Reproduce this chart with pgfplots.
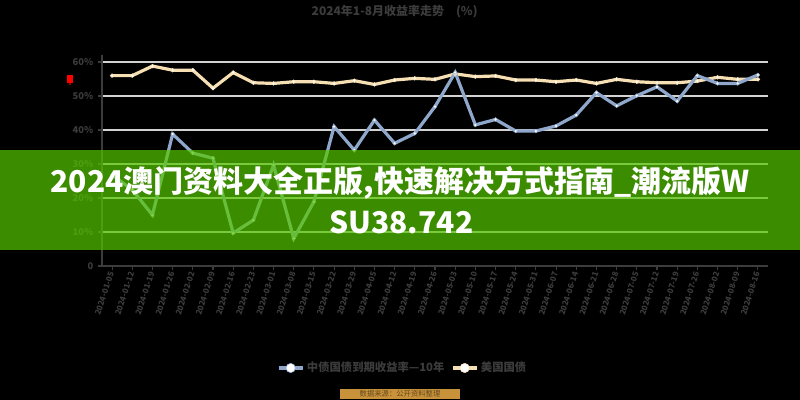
\documentclass[border=0pt]{standalone}
\usepackage{pgfplots}
\pgfplotsset{compat=1.18}
\usepackage{fontspec}
\setmainfont{Noto Sans CJK SC}
\definecolor{txt}{HTML}{3C3C3C}
\definecolor{gridc}{HTML}{D2D2D2}
\definecolor{blueline}{HTML}{8EA7CB}
\definecolor{beige}{HTML}{F6DFB2}
\definecolor{banner}{RGB}{86,200,0}
\definecolor{srcbox}{HTML}{C8923A}

\begin{document}
\begin{tikzpicture}[x=1pt,y=1pt]
\fill[black] (0,0) rectangle (600,300);
\useasboundingbox (0,0) rectangle (600,300);
\begin{axis}[
  scale only axis, width=499.5pt, height=153pt,
  at={(76.5pt,100.5pt)}, anchor=south west,
  xmin=-0.5, xmax=32.5, ymin=0, ymax=60,
  axis lines=left,
  axis line style={-, draw=txt, line width=1.2pt},
  y axis line style={shorten >=-5pt},
  ytick={0,10,...,60},
  yticklabels={0,10\%,20\%,30\%,40\%,50\%,60\%},
  ymajorgrids, grid style={gridc, line width=2pt},
  xtick={0,...,32},
  xticklabels={2024-01-05,2024-01-12,2024-01-19,2024-01-26,2024-02-02,2024-02-09,2024-02-16,2024-02-23,2024-03-01,2024-03-08,2024-03-15,2024-03-22,2024-03-29,2024-04-05,2024-04-12,2024-04-19,2024-04-26,2024-05-03,2024-05-10,2024-05-17,2024-05-24,2024-05-31,2024-06-07,2024-06-14,2024-06-21,2024-06-28,2024-07-05,2024-07-12,2024-07-19,2024-07-26,2024-08-02,2024-08-09,2024-08-16},
  x tick label style={rotate=72, anchor=east, inner sep=1.5pt, font=\bfseries\fontsize{6}{7}\selectfont, text=txt},
  y tick label style={font=\bfseries\fontsize{7}{8}\selectfont, text=txt},
  tick style={draw=txt, line width=0.8pt}, major tick length=3pt, tick align=outside,
  legend style={at={(0.452,-0.5)}, anchor=center, draw=none, fill=none, text=txt,
    font=\bfseries\fontsize{8.5}{10}\selectfont, legend columns=2,
    /tikz/every even column/.append style={column sep=3pt}},
  reverse legend,
  legend image code/.code={\draw[#1,mark repeat=2,mark phase=2,mark size=3.5pt] plot coordinates {(0pt,0pt) (9pt,0pt) (18pt,0pt)};},
]
\addplot[beige, line width=2.4pt, mark=*, mark size=1.4pt, mark options={fill=white, draw=beige, line width=0.4pt}] coordinates {
(0,56.0) (1,56.0) (2,58.8) (3,57.6) (4,57.6) (5,52.3) (6,56.9) (7,53.9) (8,53.7) (9,54.2)
(10,54.2) (11,53.7) (12,54.5) (13,53.4) (14,54.7) (15,55.2) (16,54.9) (17,56.5) (18,55.7) (19,55.9)
(20,54.7) (21,54.7) (22,54.2) (23,54.7) (24,53.7) (25,54.9) (26,54.2) (27,53.9) (28,53.9) (29,54.4)
(30,55.5) (31,54.9) (32,54.9)};
\addlegendentry{美国国债}
\addplot[blueline, line width=2.4pt, mark=*, mark size=1.4pt, mark options={fill=white, draw=blueline, line width=0.4pt}] coordinates {
(0,26.8) (1,22.4) (2,15.0) (3,38.8) (4,33.2) (5,31.7) (6,9.7) (7,13.5) (8,29.7) (9,8.1)
(10,18.9) (11,41.0) (12,34.1) (13,42.9) (14,36.1) (15,39.0) (16,46.9) (17,56.9) (18,41.5) (19,43.1)
(20,39.7) (21,39.7) (22,41.2) (23,44.4) (24,51.0) (25,47.1) (26,50.1) (27,52.7) (28,48.5) (29,56.0)
(30,53.7) (31,53.7) (32,56.2)};
\addlegendentry{中债国债到期收益率—10年}
\end{axis}
\node[text=txt, font=\bfseries\fontsize{9}{10}\selectfont] at (296,291) {2024年1-8月收益率走势\quad (\%)};
\fill[red] (50.5,238) rectangle (55,244);
\fill[red!60!black] (52,236) rectangle (53,238);
\fill[banner, opacity=0.7] (0,112.5) rectangle (600,187.5);
\node[text=white, font=\bfseries\fontsize{22.5}{27}\selectfont] at (300,162.75) {2024澳门资料大全正版,快速解决方式指南\_潮流版W};
\node[text=white, font=\bfseries\fontsize{22.5}{27}\selectfont] at (301,133.5) {SU38.742};
\node[fill=srcbox, text=srcbox!50!black, font=\fontsize{5.5}{6}\selectfont, minimum width=90pt, minimum height=7.5pt, inner sep=0pt] at (300,4.5) {数据来源：公开资料整理};
\end{tikzpicture}
\end{document}
